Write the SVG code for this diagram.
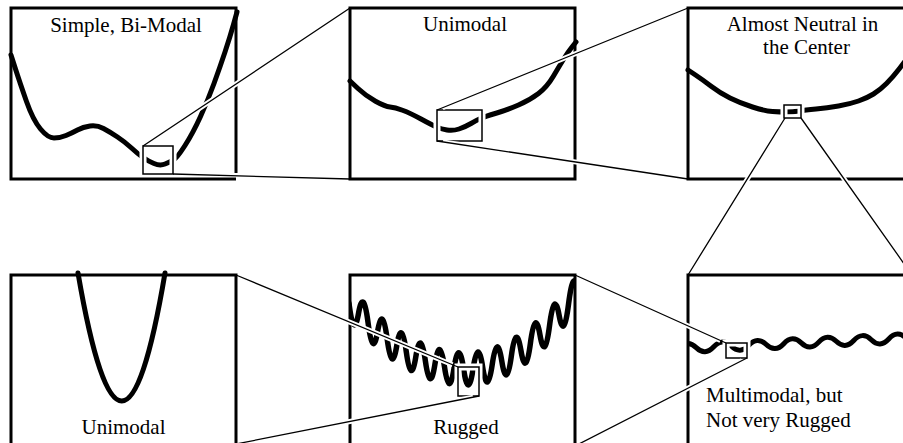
<svg xmlns="http://www.w3.org/2000/svg" width="903" height="443" viewBox="0 0 903 443">
<style>
.frame{fill:none;stroke:#000;stroke-width:3}
.curve{fill:none;stroke:#000;stroke-width:5;stroke-linecap:round;stroke-linejoin:round}
.halo{fill:none;stroke:#fff;stroke-width:7}
.zoom{fill:none;stroke:#000;stroke-width:1.5}
.lh{fill:none;stroke:#fff;stroke-width:5}
.ln{fill:none;stroke:#000;stroke-width:1.3}
text{font-family:"Liberation Serif","Times New Roman",serif;font-size:21px;fill:#000}
</style>
<defs>
<clipPath id="c5"><rect x="350" y="265" width="225" height="185"/></clipPath>
<clipPath id="c6"><rect x="688" y="265" width="220" height="185"/></clipPath>
</defs>
<rect width="903" height="443" fill="#fff"/>

<g id="panel-bimodal">
<path class="curve" d="M11,55 L15.5,69 Q20,83 26.5,101.5 Q33,120 40.5,129 Q48,138 54,138 Q60,138 66,135.5 Q72,133 77.5,130 Q83,127 90,126 Q97,125 103.5,128.5 Q110,132 117.5,137 Q125,142 131.5,148 Q138,154 143,157.5 Q148,161 154,163.5 Q160,166 165,164 Q170,162 173.5,160 Q177,158 185,145.5 Q193,133 200.5,116.5 Q208,100 214,83.5 Q220,67 225,52 Q230,37 233.5,24.5 L237,12"/>
<rect class="halo" x="143" y="146" width="30" height="28"/>
<path class="frame" d="M236,173 V8 H11 V179 H236"/>
<rect class="zoom" x="143" y="146" width="30" height="28"/>
<text x="126" y="32" text-anchor="middle">Simple, Bi-Modal</text>
</g>

<g id="panel-unimodal-top">
<path class="curve" d="M350,81 L358,88.5 Q366,96 375.5,101.25 Q385,106.5 390,107 Q395,107.5 402.5,110.25 Q410,113 421,119 Q432,125 436.5,127 Q441,129 447,130 Q453,131 459,129 Q465,127 471,123.5 Q477,120 481,118.25 Q485,116.5 496,113.25 Q507,110 518.5,105 Q530,100 538.5,93.5 Q547,87 553.5,76 Q560,65 564,58.5 Q568,52 572,47 L576,42"/>
<rect class="halo" x="437" y="110" width="45" height="31"/>
<rect class="frame" x="350" y="8" width="225" height="171"/>
<rect class="zoom" x="437" y="110" width="45" height="31"/>
<text x="465" y="31" text-anchor="middle">Unimodal</text>
</g>

<g id="panel-neutral">
<path class="curve" d="M688,70 L695.5,75 Q703,80 711.5,86.5 Q720,93 730,98 Q740,103 752.5,107 Q765,111 772.5,111.5 Q780,112 786.5,112 Q793,112 799,111 Q805,110 816,109 Q827,108 838.5,106 Q850,104 858.5,101 Q867,98 873.5,94 Q880,90 886.5,83.5 Q893,77 899.5,68.5 L906,60"/>
<rect class="halo" x="784" y="105" width="17" height="13"/>
<path class="frame" d="M906,8 H688 V179 H906"/>
<rect class="zoom" x="784" y="105" width="17" height="13"/>
<text x="802.5" y="30.5" text-anchor="middle">Almost Neutral in</text>
<text x="806.5" y="54" text-anchor="middle">the Center</text>
</g>

<g id="panel-unimodal-bottom">
<path class="curve" d="M78,273 Q122,529 165,273"/>
<path class="frame" d="M11,446 V275 H236 V446"/>
<text x="123.5" y="434" text-anchor="middle">Unimodal</text>
</g>

<g id="panel-rugged">
<path class="curve" clip-path="url(#c5)" style="stroke-width:5.5" d="M349.0,303.3 Q353.75,340.5 358.5,313.5 Q363.3,286.4 368.1,323.0 Q372.85,359.4 377.6,331.5 Q382.4,303.5 387.2,339.2 Q391.95,374.7 396.7,346.0 Q401.5,317.0 406.3,351.9 Q411.05,386.5 415.8,356.9 Q420.6,327.1 425.4,361.1 Q430.15,394.8 434.9,364.4 Q439.7,333.7 444.5,366.8 Q449.25,399.7 454.0,368.3 Q458.8,336.75 463.6,369.0 Q468.35,401.0 473.1,368.7 Q477.9,336.1 482.7,367.3 Q487.45,398.1 492.2,364.7 Q497.0,331.0 501.8,361.1 Q506.55,390.8 511.3,356.3 Q516.1,321.4 520.9,350.3 Q525.65,378.9 530.4,343.3 Q535.2,307.3 540.0,335.0 Q544.75,362.5 549.5,325.8 Q554.3,288.7 559.1,315.3 Q563.85,341.6 568.6,303.7 Q573.4,265.5 578.2,290.9"/>
<rect class="halo" x="458" y="367" width="21" height="29"/>
<path class="frame" d="M350,446 V275 H575 V446"/>
<rect class="zoom" x="458" y="367" width="21" height="29"/>
<text x="466" y="433.5" text-anchor="middle">Rugged</text>
</g>

<g id="panel-multimodal">
<path class="curve" clip-path="url(#c6)" d="M678.75,348.4 Q687.5,339.0 696.25,347.6 Q705,356.2 713.75,346.8 Q722.5,337.4 731.25,346.1 Q740,354.7 748.75,345.3 Q757.5,335.9 766.25,344.5 Q775,353.1 783.75,343.7 Q792.5,334.3 801.25,342.9 Q810,351.5 818.75,342.1 Q827.5,332.7 836.25,341.3 Q845,349.9 853.75,340.5 Q862.5,331.1 871.25,339.8 Q880,348.4 888.75,339.0 Q897.5,329.6 906.25,338.2"/>
<rect class="halo" x="726" y="343" width="21" height="15"/>
<path class="frame" d="M688,446 V275 H906"/>
<rect class="zoom" x="726" y="343" width="21" height="15"/>
<text x="706" y="402">Multimodal, but</text>
<text x="706" y="426.5">Not very Rugged</text>
</g>

<g id="connectors">
<path class="lh" d="M148,142.7 L345,11.3 M442.6,107.7 L682.4,10.3 M442.9,141.9 L682.1,178.1 M781.8,123.1 L691.2,269.9 M804.5,122.9 L912,275 M720.5,340.5 L580.5,277.5 M741.7,360.7 L580.3,443.3 M452.5,364.7 L241.5,277.3 M473.1,397.2 L241.9,442.8"/>
<path class="ln" d="M143,146 L350,8 M173,174 L350,179 M437,110 L688,8 M437,141 L688,179 M785,118 L688,275 M801,118 L912,275 M726,343 L575,275 M747,358 L575,446 M458,367 L236,275 M479,396 L236,444"/>
</g>
</svg>
